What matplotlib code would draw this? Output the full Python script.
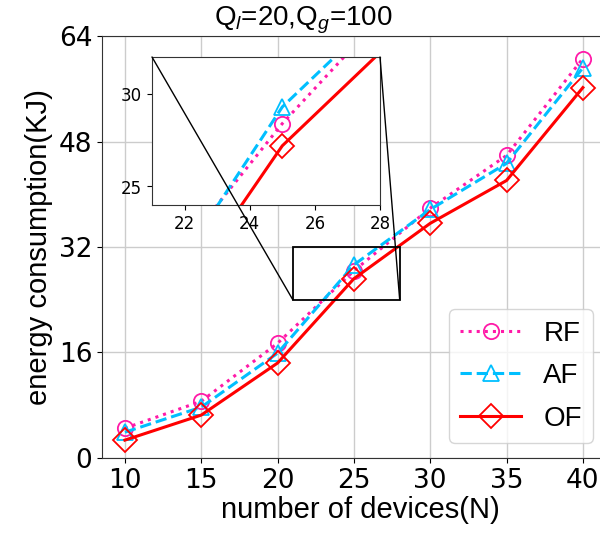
import numpy as np
import matplotlib
matplotlib.use('Agg')
import matplotlib.pyplot as plt
from matplotlib.patches import Rectangle, ConnectionPatch

plt.rcParams['mathtext.fontset'] = 'custom'
plt.rcParams['mathtext.rm'] = 'Liberation Sans'
plt.rcParams['mathtext.it'] = 'Liberation Sans:italic'

# data
devices = [10, 15, 20, 25, 30, 35, 40]
rf = [4.5, 8.6, 17.4, 28.4, 37.9, 45.9, 60.6]
af = [3.9, 7.7, 15.9, 29.3, 37.7, 44.7, 59.2]
of = [2.7, 6.5, 14.4, 27.2, 35.6, 42.1, 56.2]

series = [
    ('RF', rf, '#ff1aa8', ':', 'o'),
    ('AF', af, '#00bfff', '--', '^'),
    ('OF', of, '#ff0000', '-', 'D'),
]

fig = plt.figure(figsize=(6, 5.4), dpi=100)
ax = fig.add_axes([0.17, 0.152, 0.86, 0.781])

for name, vals, col, ls, mk in series:
    ax.plot(devices, vals, color=col, linestyle=ls, linewidth=2.2, marker=mk,
            markersize=11 if mk != 'D' else 12, markerfacecolor='none',
            markeredgecolor=col, markeredgewidth=1.3, label=name)

ax.set_xlim(8.5, 42.3)
ax.set_ylim(0, 64)
ax.set_xticks(devices)
ax.set_yticks([0, 16, 32, 48, 64])
ax.grid(True, color='#cccccc', linewidth=1.0)
ax.tick_params(labelsize=19)
for s in ax.spines.values():
    s.set_color('#333333')

ax.set_xlabel('number of devices(N)', fontsize=21, family='Liberation Sans', labelpad=2)
ax.set_ylabel('energy consumption(KJ)', fontsize=21, family='Liberation Sans', labelpad=4)
ax.set_title('Q$_l$=20,Q$_g$=100', fontsize=20, family='Liberation Sans', x=0.39, pad=3)

leg = ax.legend(loc='lower right', bbox_to_anchor=(593 / 600, 97 / 540),
                bbox_transform=fig.transFigure, prop={'family': 'Liberation Sans', 'size': 20},
                handlelength=2.2, borderpad=0.4, labelspacing=0.6, borderaxespad=0)

# zoomed inset
axin = fig.add_axes([152 / 600, 335 / 540, 228 / 600, 148 / 540])
for name, vals, col, ls, mk in series:
    axin.plot(devices, vals, color=col, linestyle=ls, linewidth=2.2, marker=mk,
              markersize=11 if mk != 'D' else 12, markerfacecolor='none',
              markeredgecolor=col, markeredgewidth=1.3)
axin.set_xlim(21, 28)
axin.set_ylim(24, 32)
axin.set_xticks([22, 24, 26, 28])
axin.set_yticks([25, 30])
axin.tick_params(labelsize=12)
for s in axin.spines.values():
    s.set_color('#333333')

ax.add_patch(Rectangle((21, 24), 7, 8, fill=False, edgecolor='black', linewidth=1.3, zorder=5))
for xa, xd in [(0, 21), (1, 28)]:
    cp = ConnectionPatch(xyA=(xa, 1), coordsA=axin.transAxes, xyB=(xd, 24), coordsB=ax.transData,
                         color='black', linewidth=1.0)
    fig.add_artist(cp)

fig.savefig('out.png', dpi=100)
